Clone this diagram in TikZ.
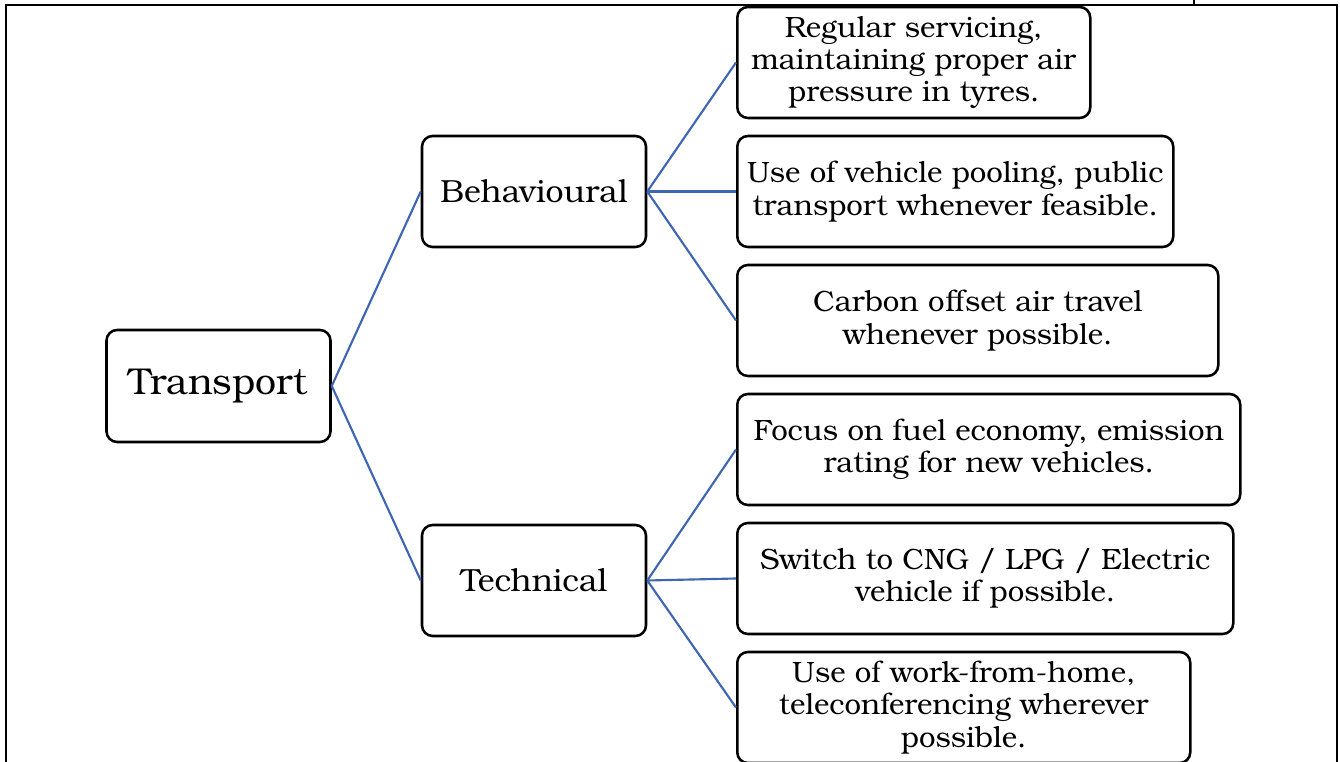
\documentclass[tikz,border=0pt]{standalone}
\usepackage{fontspec}
\setmainfont{texgyrebonum}[Extension=.otf, UprightFont=*-regular, BoldFont=*-bold]
\usepackage{xcolor}
\usepackage{tikz}
\usetikzlibrary{positioning}
\definecolor{linkblue}{HTML}{3F66B2}
\tikzset{
    rootbox/.style = {rectangle, rounded corners=8pt, minimum width=168pt, minimum height=84pt, text centered, draw=black, line width=1.9pt, font=\fontsize{28}{33}\selectfont},
    groupbox/.style = {rectangle, rounded corners=8pt, minimum width=168pt, minimum height=83.25pt, text centered, draw=black, line width=1.9pt, font=\fontsize{24}{28}\selectfont},
    leafbox/.style = {rectangle, rounded corners=8pt, minimum height=83.25pt, inner sep=0pt, align=center, draw=black, line width=1.9pt, font=\fontsize{22}{24.2}\selectfont},
    link/.style = {draw=linkblue, line width=1.6pt}
}

\begin{document}
\begin{tikzpicture}[x=0.75pt, y=-0.75pt]
    \useasboundingbox (0,0) rectangle (1340,762);

    % frame
    \draw [line width=1.5pt] (6,770) -- (6,5) -- (1337,5) -- (1337,770);
    \draw [line width=1pt] (1194,0) -- (1194,5);

    \node [rootbox] (transport) at (218.5,386) {Transport};
    \node [groupbox] (behav) at (534,191.5) {Behavioural};
    \node [groupbox] (tech) at (534,580.5) {Technical};

    \node [leafbox, minimum width=264.75pt, anchor=west] (servicing) at (736,62.5) {Regular servicing,\\maintaining proper air\\pressure in tyres.};
    \node [leafbox, minimum width=327pt, below=11.6pt of servicing.south west, anchor=north west] (pooling) {Use of vehicle pooling, public\\transport whenever feasible.};
    \node [leafbox, minimum width=360.75pt, below=11.6pt of pooling.south west, anchor=north west] (offset) {Carbon offset air travel\\whenever possible.};
    \node [leafbox, minimum width=377.25pt, below=11.6pt of offset.south west, anchor=north west] (economy) {Focus on fuel economy, emission\\rating for new vehicles.};
    \node [leafbox, minimum width=372pt, below=11.6pt of economy.south west, anchor=north west] (cng) {Switch to CNG / LPG / Electric\\vehicle if possible.};
    \node [leafbox, minimum width=339.75pt, below=11.6pt of cng.south west, anchor=north west] (wfh) {Use of work-from-home,\\teleconferencing wherever\\possible.};

    \draw [link] (transport.east) -- (behav.west);
    \draw [link] (transport.east) -- (tech.west);
    \draw [link] (behav.east) -- (servicing.west);
    \draw [link] (behav.east) -- (pooling.west);
    \draw [link] (behav.east) -- (offset.west);
    \draw [link] (tech.east) -- (economy.west);
    \draw [link] (tech.east) -- (cng.west);
    \draw [link] (tech.east) -- (wfh.west);
\end{tikzpicture}
\end{document}
